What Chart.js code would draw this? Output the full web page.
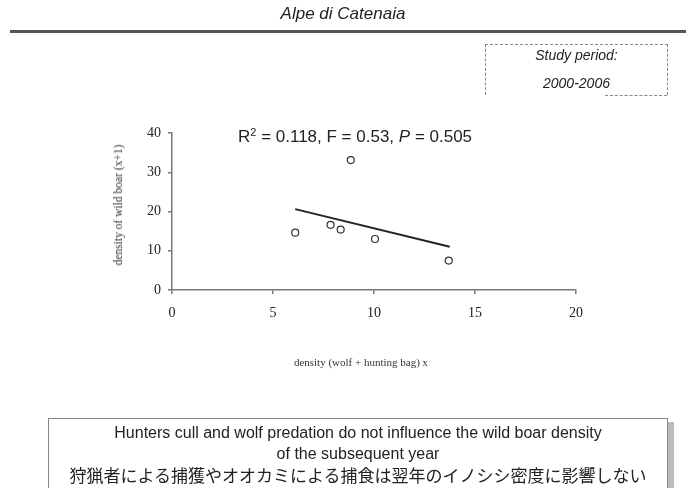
<!DOCTYPE html>
<html>
<head>
<meta charset="utf-8">
<script src="https://cdn.jsdelivr.net/npm/chart.js@4"></script>
<style>
  html, body { margin: 0; padding: 0; background: #fff; }
  #wrap { position: relative; width: 686px; height: 488px; overflow: hidden; font-family: "Liberation Sans", Arial, sans-serif; color: #222; }
  #chart { position: absolute; left: 0; top: 0; }
  .abs { position: absolute; white-space: nowrap; }
  #title { left: 0; width: 686px; top: 4px; text-align: center; font-style: italic; font-size: 17px; }
  #rule { left: 10px; right: 0; top: 30px; height: 0; border-top: 3px solid #555; }
  #period { left: 485px; top: 44px; width: 181px; height: 50px; border: 1px dashed #888; border-bottom: none; }
  #periodBottom { left: 605px; top: 95px; width: 62px; height: 0; border-top: 1px dashed #888; }
  .periodTxt { left: 485px; width: 183px; text-align: center; font-style: italic; font-size: 14px; }
  #stats { left: 238px; top: 127px; font-size: 17px; }
  #stats sup { font-size: 11px; vertical-align: 6px; line-height: 0; }
  .axisTitle { font-family: "Liberation Serif", "Times New Roman", serif; font-size: 11px; color: #333; }
  #xTitle { left: 361px; top: 356px; transform: translateX(-50%); }
  #yTitle { left: 118px; top: 205px; font-size: 11.5px; transform: translate(-50%, -50%) rotate(-90deg); }
  #note { left: 48px; top: 418px; width: 618px; height: 90px; border: 1px solid #888; background: #fff; box-shadow: 6px 4px 0 #bbb; }
  .noteTxt { left: 48px; width: 620px; text-align: center; font-size: 16px; }
  #noteJa { font-family: "Noto Sans CJK JP", sans-serif; font-size: 17px; }
</style>
</head>
<body>
<div id="wrap">
  <canvas id="chart" width="686" height="488"></canvas>
  <div class="abs" id="title">Alpe di Catenaia</div>
  <div class="abs" id="rule"></div>
  <div class="abs" id="period"></div>
  <div class="abs" id="periodBottom"></div>
  <div class="abs periodTxt" style="top:47px">Study period:</div>
  <div class="abs periodTxt" style="top:75px">2000-2006</div>
  <div class="abs" id="stats">R<sup>2</sup> = 0.118, F = 0.53, <i>P</i> = 0.505</div>
  <div class="abs axisTitle" id="yTitle">density of wild boar (x+1)</div>
  <div class="abs axisTitle" id="xTitle">density (wolf + hunting bag) x</div>
  <div class="abs" id="note"></div>
  <div class="abs noteTxt" style="top:424px">Hunters cull and wolf predation do not influence the wild boar density</div>
  <div class="abs noteTxt" style="top:445px">of the subsequent year</div>
  <div class="abs noteTxt" id="noteJa" style="top:462px">狩猟者による捕獲やオオカミによる捕食は翌年のイノシシ密度に影響しない</div>
</div>
<script>
// wolf + hunting bag density (x) and wild boar density next year (y)
var densityX = [6.1, 7.85, 8.35, 8.85, 10.05, 13.7];
var boarY = [14.6, 16.6, 15.4, 33.1, 13.0, 7.5];

// fitted regression line end points
var fitX = [6.1, 13.75];
var fitY = [20.6, 11.0];

var xTicks = [0, 5, 10, 15, 20];
var yTicks = [0, 10, 20, 30, 40];

var axisGrey = '#777';
var tickFont = { family: '"Liberation Serif", "Times New Roman", serif', size: 14 };

function toPoints(xs, ys) {
    var pts = [];
    for (var i = 0; i < xs.length; i++) pts.push({ x: xs[i], y: ys[i] });
    return pts;
}

var ctx = document.getElementById('chart');
var BoarChart = new Chart(ctx, {
    type: 'scatter',
    data: {
        datasets: [
            {
                type: 'line',
                data: toPoints(fitX, fitY),
                borderColor: '#222',
                borderWidth: 2,
                pointRadius: 0,
                fill: false
            },
            {
                data: toPoints(densityX, boarY),
                pointStyle: 'circle',
                pointRadius: 3.5,
                borderWidth: 1.2,
                borderColor: '#333',
                backgroundColor: '#fff'
            }
        ]
    },
    options: {
        responsive: false,
        animation: false,
        layout: { padding: { left: 110, right: 110, top: 133, bottom: 118 } },
        plugins: { legend: { display: false }, tooltip: { enabled: false } },
        scales: {
            x: {
                type: 'linear',
                min: 0, max: 20,
                afterBuildTicks: function (scale) { scale.ticks = xTicks.map(function (v) { return { value: v }; }); },
                afterFit: function (scale) { scale.height = 80; },
                border: { color: axisGrey, width: 1.5 },
                grid: { drawOnChartArea: false, drawTicks: true, tickLength: 4, color: axisGrey, lineWidth: 1.5 },
                ticks: { color: '#222', font: tickFont, padding: 11, maxRotation: 0 }
            },
            y: {
                type: 'linear',
                min: 0, max: 40,
                afterBuildTicks: function (scale) { scale.ticks = yTicks.map(function (v) { return { value: v }; }); },
                afterFit: function (scale) { scale.width = 62; },
                border: { color: axisGrey, width: 1.5 },
                grid: { drawOnChartArea: false, drawTicks: true, tickLength: 4, color: axisGrey, lineWidth: 1.5 },
                ticks: { color: '#222', font: tickFont, padding: 7 }
            }
        }
    }
});
</script>
</body>
</html>
